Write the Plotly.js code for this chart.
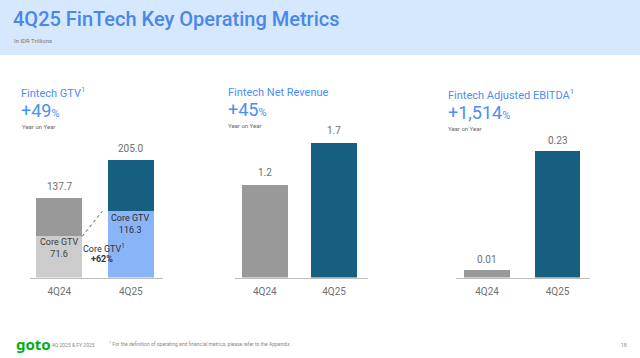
<!DOCTYPE html>
<html>
<head>
<meta charset="utf-8">
<script src="https://cdn.plot.ly/plotly-3.0.1.min.js"></script>
<style>
html,body{margin:0;padding:0;background:#fff;}
#chart{width:640px;height:358px;}
</style>
</head>
<body>
<div id="chart"></div>
<script>
// ---- data ----
const categories = ['4Q24', '4Q25'];
const gtvTotal = [137.7, 205.0];
const coreGtv = [71.6, 116.3];
const gtvLabels = ['137.7', '205.0'];
const coreGtvLabels = ['71.6', '116.3'];
const netRevenue = [1.18, 1.72];
const netRevenueLabels = ['1.2', '1.7'];
const adjEbitda = [0.0143, 0.23];
const adjEbitdaLabels = ['0.01', '0.23'];
const growthGtv = '+49';
const growthRevenue = '+45';
const growthEbitda = '+1,514';
const growthCoreGtv = '+62%';

// ---- layout helpers ----
const W = 640, H = 358;
const px = v => v / W;
const py = v => 1 - v / H;
const FONT = 'Roboto, "Noto Sans", sans-serif';
const GRAY_TXT = '#707070';
const BLUE_TXT = '#4b8ef5';
const C_GRAY = '#999999', C_LGRAY = '#cccccc', C_TEAL = '#175f80', C_LBLUE = '#8ab4f8';

const nonCore = gtvTotal.map((v, i) => +(v - coreGtv[i]).toFixed(1));

const traces = [
  {type: 'bar', x: categories, y: coreGtv, xaxis: 'x', yaxis: 'y',
   marker: {color: [C_LGRAY, C_LBLUE], line: {width: 0}}, width: 0.64, hoverinfo: 'none'},
  {type: 'bar', x: categories, y: nonCore, xaxis: 'x', yaxis: 'y',
   marker: {color: [C_GRAY, C_TEAL], line: {width: 0}}, width: 0.64, hoverinfo: 'none'},
  {type: 'bar', x: categories, y: netRevenue, xaxis: 'x2', yaxis: 'y2',
   marker: {color: [C_GRAY, C_TEAL], line: {width: 0}}, width: 0.66, hoverinfo: 'none'},
  {type: 'bar', x: categories, y: adjEbitda, xaxis: 'x3', yaxis: 'y3',
   marker: {color: [C_GRAY, C_TEAL], line: {width: 0}}, width: 0.64, hoverinfo: 'none'}
];

const basePx = 277.5, topPx = 130;
function xa(l, r, range, anchor) {
  return {domain: [px(l), px(r)], range: range, type: 'category', showgrid: false, zeroline: false,
    showline: true, linecolor: '#bdbdbd', linewidth: 1, ticks: '', fixedrange: true, anchor: anchor,
    tickfont: {family: FONT, size: 10, color: GRAY_TXT}, ticklabelstandoff: 4};
}
function ya(range, anchor) {
  return {domain: [py(basePx), py(topPx)], range: range, visible: false, fixedrange: true, anchor: anchor};
}

const ann = [];
function t(text, x, y, size, color, extra) {
  ann.push(Object.assign({text: text, x: px(x), y: py(y), xref: 'paper', yref: 'paper',
    xanchor: 'left', yanchor: 'middle', showarrow: false,
    font: {family: FONT, size: size, color: color}}, extra || {}));
}
// header
t('4Q25 FinTech Key Operating Metrics', 11, 19, 20, '#4a86ec', {font: {family: FONT, size: 20, color: '#4a86ec', weight: 500}});
t('In IDR Trillions', 12, 40, 6, '#777777');
// panel headings
t('Fintech GTV<sup>1</sup>', 19, 93, 11, BLUE_TXT);
t(growthGtv + '<span style="font-size:11px">%</span>', 19, 110, 18, BLUE_TXT);
t('Year on Year', 20, 126, 6, '#666666');
t('Fintech Net Revenue', 226, 92, 11, BLUE_TXT);
t(growthRevenue + '<span style="font-size:11px">%</span>', 226, 109, 18, BLUE_TXT);
t('Year on Year', 226, 125, 6, '#666666');
t('Fintech Adjusted EBITDA<sup>1</sup>', 446, 94, 11, BLUE_TXT);
t(growthEbitda + '<span style="font-size:11px">%</span>', 446, 112, 18, BLUE_TXT);
t('Year on Year', 446, 128, 6, '#666666');

// value labels via axes
function vlab(text, xr, yr, x, y, shift) {
  ann.push({text: text, x: x, y: y, xref: xr, yref: yr, xanchor: 'center', yanchor: 'bottom',
    yshift: shift, showarrow: false, font: {family: FONT, size: 10, color: GRAY_TXT}});
}
categories.forEach((c, i) => {
  vlab(gtvLabels[i], 'x', 'y', c, gtvTotal[i], 4);
  vlab(netRevenueLabels[i], 'x2', 'y2', c, netRevenue[i], 5);
  vlab(adjEbitdaLabels[i], 'x3', 'y3', c, adjEbitda[i], 3);
});
// core GTV inside labels
ann.push({text: 'Core GTV<br>' + coreGtvLabels[0], x: categories[0], y: coreGtv[0], xref: 'x', yref: 'y',
  xanchor: 'center', yanchor: 'top', yshift: 1, showarrow: false,
  font: {family: FONT, size: 9, color: '#3c3c3c'}});
ann.push({text: 'Core GTV<br>' + coreGtvLabels[1], x: categories[1], y: coreGtv[1], xref: 'x', yref: 'y',
  xanchor: 'center', yanchor: 'top', yshift: 0, showarrow: false,
  font: {family: FONT, size: 9, color: '#2c2c2c'}});
// dotted arrow between core tops
ann.push({x: 0.62, y: coreGtv[1], ax: 0.585, ay: coreGtv[1] - 1.9, xref: 'x', yref: 'y', axref: 'x', ayref: 'y',
  showarrow: true, arrowhead: 2, arrowsize: 0.9, arrowwidth: 0.8, arrowcolor: '#555555', text: ' ',
  standoff: 0});
t('Core GTV<sup>1</sup>', 81, 248, 9, '#333333');
t('<b>' + growthCoreGtv + '</b>', 89, 259, 9, '#333333');

// footer
t('<b>goto</b>', 14, 344, 15, '#00b214', {font: {family: '"Noto Sans", sans-serif', size: 15, color: '#00b214', weight: 800}});
t('4Q 2025 & FY 2025', 50, 345, 5, '#888888');
t('<sup>1</sup> For the definition of operating and financial metrics, please refer to the Appendix', 107, 344, 5, '#888888');
t('18', 629, 345, 5, '#888888', {xanchor: 'right'});

const layout = {
  width: W, height: H, margin: {l: 0, r: 0, t: 0, b: 0},
  paper_bgcolor: '#ffffff', plot_bgcolor: 'rgba(0,0,0,0)',
  barmode: 'stack', showlegend: false, font: {family: FONT},
  xaxis: xa(30, 163, [-0.41, 1.45], 'y'),
  yaxis: ya([0, (basePx - topPx) / 0.574], 'x'),
  xaxis2: xa(235, 368, [-0.43, 1.49], 'y2'),
  yaxis2: ya([0, (basePx - topPx) / 78.3], 'x2'),
  xaxis3: xa(456, 590, [-0.44, 1.46], 'y3'),
  yaxis3: ya([0, (basePx - topPx) / 548], 'x3'),
  shapes: [
    {type: 'rect', xref: 'paper', yref: 'paper', x0: 0, x1: 1, y0: py(55), y1: 1,
     fillcolor: '#d6e8fd', line: {width: 0}, layer: 'below'},
    {type: 'line', xref: 'x', yref: 'y', x0: 0.32, y0: coreGtv[0], x1: 0.6, y1: coreGtv[1] - 1,
     line: {color: '#555555', width: 1, dash: 'dot'}}
  ],
  annotations: ann
};

Plotly.newPlot('chart', traces, layout, {staticPlot: true, displayModeBar: false});
</script>
</body>
</html>
